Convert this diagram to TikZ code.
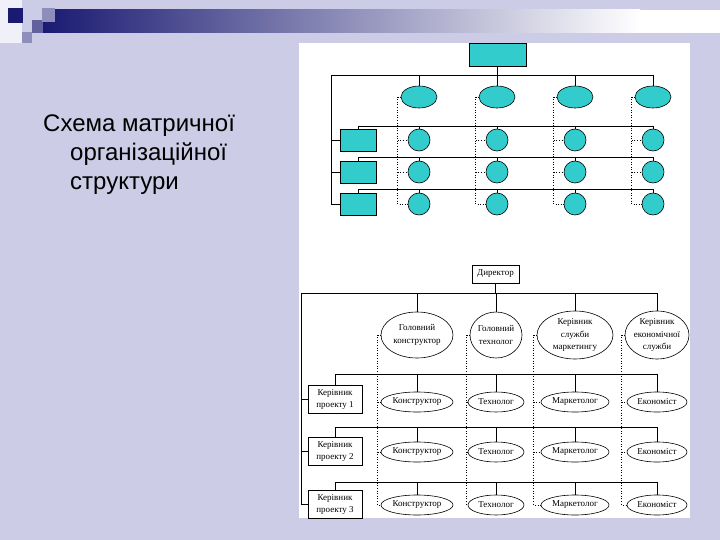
\documentclass[tikz,border=0pt]{standalone}
\usepackage{fontspec}
\setmainfont{Liberation Serif}
\newfontfamily\slidefont{Liberation Sans}
\usetikzlibrary{positioning,shapes.geometric,calc}
\definecolor{slidebg}{HTML}{CCCCE6}
\definecolor{navy}{HTML}{1A1A72}
\definecolor{tealfill}{HTML}{33CCCC}

\begin{document}
\begin{tikzpicture}[
  x=1pt, y=-1pt,
  tbox/.style={draw, fill=tealfill, minimum width=36pt, minimum height=22pt, inner sep=0pt, line width=0.6pt},
  tell/.style={draw, fill=tealfill, ellipse, minimum width=36pt, minimum height=22pt, inner sep=0pt, line width=0.6pt},
  tcirc/.style={draw, fill=tealfill, circle, minimum size=22pt, inner sep=0pt, line width=0.6pt},
  wbox/.style={draw, fill=white, align=center, inner sep=1pt, font=\fontsize{9}{12}\selectfont, line width=0.8pt},
  well/.style={draw, fill=white, ellipse, align=center, inner sep=-1pt, font=\fontsize{9}{12.5}\selectfont, line width=0.6pt},
  line/.style={line width=0.7pt},
  dline/.style={dotted, line width=0.6pt},
  title/.style={anchor=base west, inner sep=0pt, font=\slidefont\fontsize{24}{29}\selectfont},
]
\useasboundingbox (0,0) rectangle (720,540);

% === SLIDE ===
\fill[slidebg] (0,0) rectangle (720,540);
\fill[white!70!slidebg] (0,0) rectangle (22,43);
\shade[left color=navy, right color=white] (43,10) rectangle (640,33);
\fill[white] (640,10) rectangle (720,33);
\fill[navy!60!slidebg] (32,20) rectangle (43,33);
\fill[navy!35!slidebg] (42,8) rectangle (55,22);
\fill[navy!35!slidebg] (22,32) rectangle (32,43);
\fill[navy] (8,8) rectangle (23,23);
\fill[white] (299,43) rectangle (690,518);

\node[title] (title1) at (43,132) {Схема матричної};
\node[title] (title2) at (70,161) {організаційної};
\node[title] (title3) at (70,190) {структури};

% === TOP: coloured scheme ===
\node[tbox, minimum width=57pt, minimum height=23pt] (dirT) at (497.5,54.5) {};
\foreach \col/\x in {1/419,2/497,3/575,4/653} {
  \node[tell] (headT\col) at (\x,97) {};
  \foreach \row/\y in {1/140,2/172,3/204}
    \node[tcirc] (cT\row\col) at (\x,\y) {};
}
\foreach \row/\y in {1/140,2/172.5,3/204}
  \node[tbox] (projT\row) at (358,\y) {};

\coordinate (busT) at (331,75);
\draw[line] (dirT) -- (dirT |- busT);
\draw[line] (busT) -- (headT4.north |- busT) -- (headT4.north);
\foreach \col in {1,2,3}
  \draw[line] (headT\col.north |- busT) -- (headT\col.north);
\draw[line] (busT) |- (projT3.west);
\foreach \row in {1,2}
  \draw[line] (projT\row.west -| busT) -- (projT\row.west);

\foreach \row/\yb in {1/126,2/157,3/189} {
  \coordinate (rowT\row) at (358,\yb);
  \draw[line] (projT\row.north) -- (rowT\row) -| (cT\row4.north);
  \foreach \col in {1,2,3}
    \draw[line] (cT\row\col.north |- rowT\row) -- (cT\row\col.north);
}

\foreach \col in {1,...,4} {
  \coordinate (vT\col) at ([xshift=-3pt]headT\col.west);
  \draw[dline] (headT\col.west) -- (vT\col) |- (cT3\col.west);
  \draw[dline] (vT\col |- cT1\col.west) -- (cT1\col.west);
  \draw[dline] (vT\col |- cT2\col.west) -- (cT2\col.west);
}

% === BOTTOM: labelled scheme ===
\node[wbox, minimum width=47pt, minimum height=18pt] (dirL) at (495.5,274) {Директор};
\node[well, minimum width=72pt, minimum height=46pt] (headL1) at (417,335) {Головний\\конструктор};
\node[well, minimum width=52pt, minimum height=46pt] (headL2) at (496,335) {Головний\\технолог};
\node[well, minimum width=76pt, minimum height=48pt] (headL3) at (575,335) {Керівник\\служби\\маркетингу};
\node[well, minimum width=64pt, minimum height=48pt] (headL4) at (657,335) {Керівник\\економічної\\служби};

\foreach \row/\y in {1/399,2/451,3/504}
  \node[wbox, minimum width=54pt, minimum height=28pt] (projL\row) at (335,\y) {Керівник\\проекту \row};

\foreach \row/\y in {1/402,2/452,3/505} {
  \node[well, minimum width=72pt, minimum height=20pt] (cL\row1) at (417,\y) {Конструктор};
  \node[well, minimum width=56pt, minimum height=20pt] (cL\row2) at (496,\y) {Технолог};
  \node[well, minimum width=68pt, minimum height=20pt] (cL\row3) at (575,\y) {Маркетолог};
  \node[well, minimum width=60pt, minimum height=20pt] (cL\row4) at (657,\y) {Економіст};
}

\coordinate (busL) at (301,293);
\draw[line] (dirL) -- (dirL |- busL);
\draw[line] (busL) -- (headL4.north |- busL) -- (headL4.north);
\foreach \col in {1,2,3}
  \draw[line] (headL\col.north |- busL) -- (headL\col.north);
\draw[line] (busL) |- (projL3.west);
\foreach \row in {1,2}
  \draw[line] (projL\row.west -| busL) -- (projL\row.west);

\foreach \row/\yb in {1/374,2/427,3/482} {
  \coordinate (rowL\row) at (335,\yb);
  \draw[line] (projL\row.north) -- (rowL\row) -| (cL\row4.north);
  \foreach \col in {1,2,3}
    \draw[line] (cL\row\col.north |- rowL\row) -- (cL\row\col.north);
}

\foreach \col in {1,...,4} {
  \coordinate (vL\col) at ([xshift=-3pt]headL\col.west);
  \draw[dline] (headL\col.west) -- (vL\col) |- (cL3\col.west);
  \draw[dline] (vL\col |- cL1\col.west) -- (cL1\col.west);
  \draw[dline] (vL\col |- cL2\col.west) -- (cL2\col.west);
}

\end{tikzpicture}
\end{document}
